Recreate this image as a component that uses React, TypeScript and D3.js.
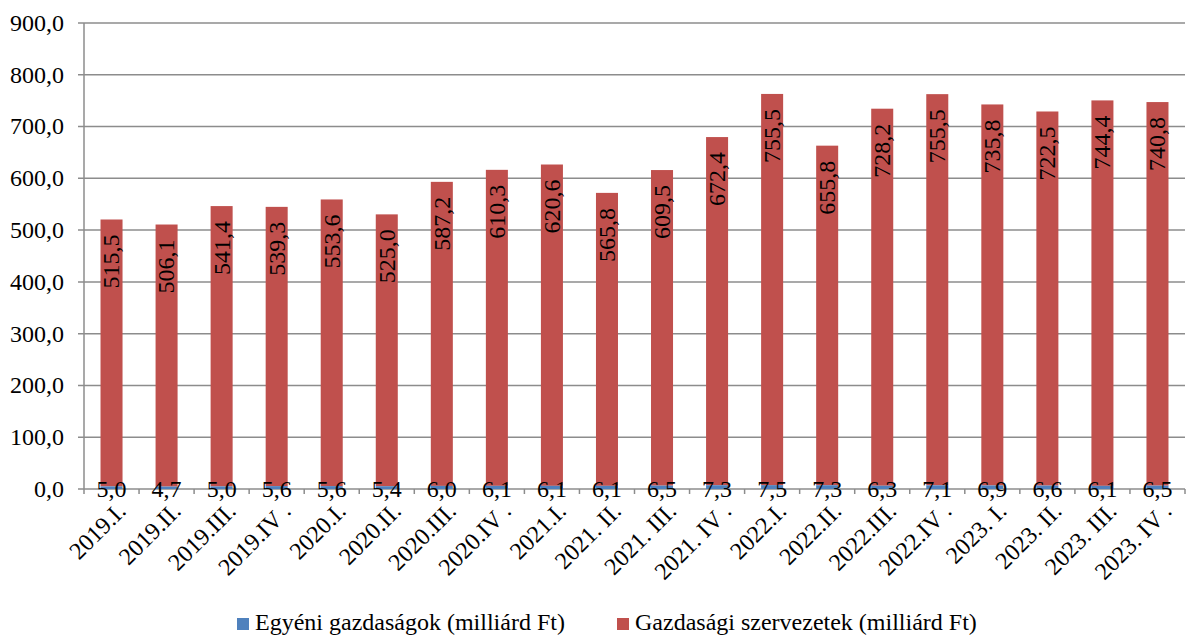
import React from "react";
import * as d3 from "d3";

const categories = ["2019.I.", "2019.II.", "2019.III.", "2019.IV .", "2020.I.", "2020.II.", "2020.III.", "2020.IV .", "2021.I.", "2021. II.", "2021. III.", "2021. IV .", "2022.I.", "2022.II.", "2022.III.", "2022.IV .", "2023. I.", "2023. II.", "2023. III.", "2023. IV ."];
const egyeni = [5.0, 4.7, 5.0, 5.6, 5.6, 5.4, 6.0, 6.1, 6.1, 6.1, 6.5, 7.3, 7.5, 7.3, 6.3, 7.1, 6.9, 6.6, 6.1, 6.5];
const szervezetek = [515.5, 506.1, 541.4, 539.3, 553.6, 525.0, 587.2, 610.3, 620.6, 565.8, 609.5, 672.4, 755.5, 655.8, 728.2, 755.5, 735.8, 722.5, 744.4, 740.8];
const yTicks = [0, 100, 200, 300, 400, 500, 600, 700, 800, 900];
const seriesNames = ["Egyéni gazdaságok (milliárd Ft)", "Gazdasági szervezetek (milliárd Ft)"];

const W = 1187, H = 637;
const left = 84, right = 1185, top = 23, bottom = 489;
const BLUE = "#4F81BD", RED = "#C0504D";
const FF = "Liberation Serif";
const FS = 24;

const fmt = (v: number) => d3.format(".1f")(v).replace(".", ",");

export default function App() {
  const x = d3.scaleBand<string>().domain(categories).range([left, right]).paddingInner(0.6).paddingOuter(0.3);
  const xo = d3.scaleBand<string>().domain(categories).range([left, right]);
  const y = d3.scaleLinear().domain([0, 900]).range([bottom, top]);
  const bw = x.bandwidth();

  return (
    <svg width={W} height={H} fontFamily={FF} style={{ position: "absolute", left: 0, top: 0, background: "#fff", fontFamily: FF }}>
      {yTicks.map((t) => (
        <g key={t}>
          <line x1={left - 6} x2={right} y1={y(t)} y2={y(t)} stroke="#8c8c8c" strokeWidth={1.5} />
          <text x={64} y={y(t)} dy="0.33em" textAnchor="end" fontSize={FS} fontFamily={FF}>{fmt(t)}</text>
        </g>
      ))}
      <line x1={left} x2={left} y1={top} y2={bottom + 5} stroke="#8c8c8c" strokeWidth={1.5} />
      {categories.map((c, i) => (
        <line key={"t" + i} x1={(xo(c) as number) + xo.bandwidth()} x2={(xo(c) as number) + xo.bandwidth()} y1={bottom} y2={bottom + 5} stroke="#8c8c8c" strokeWidth={1.5} />
      ))}
      {categories.map((c, i) => {
        const bx = x(c) as number;
        const b0 = y(0), b1 = y(egyeni[i]), r1 = y(egyeni[i] + szervezetek[i]);
        const cx = bx + bw / 2;
        return (
          <g key={c}>
            <rect x={bx} y={r1} width={bw} height={b1 - r1} fill={RED} />
            <rect x={bx} y={b1} width={bw} height={b0 - b1} fill={BLUE} />
            <text transform={`translate(${cx},${r1 + 15}) rotate(-90)`} textAnchor="end" dy="0.33em" fontSize={FS} fontFamily={FF}>{fmt(szervezetek[i])}</text>
            <text x={cx} y={bottom + 8} textAnchor="middle" fontSize={FS} fontFamily={FF}>{fmt(egyeni[i])}</text>
            <text transform={`translate(${cx + 10},${bottom + 18}) rotate(-45)`} textAnchor="end" dy="0.33em" fontSize={FS} fontFamily={FF}>{c}</text>
          </g>
        );
      })}
      <g>
        <rect x={237} y={618} width={12} height={12} fill={BLUE} />
        <text x={255} y={630} fontSize={FS} fontFamily={FF}>{seriesNames[0]}</text>
        <rect x={617} y={618} width={12} height={12} fill={RED} />
        <text x={635} y={630} fontSize={FS} fontFamily={FF}>{seriesNames[1]}</text>
      </g>
    </svg>
  );
}
